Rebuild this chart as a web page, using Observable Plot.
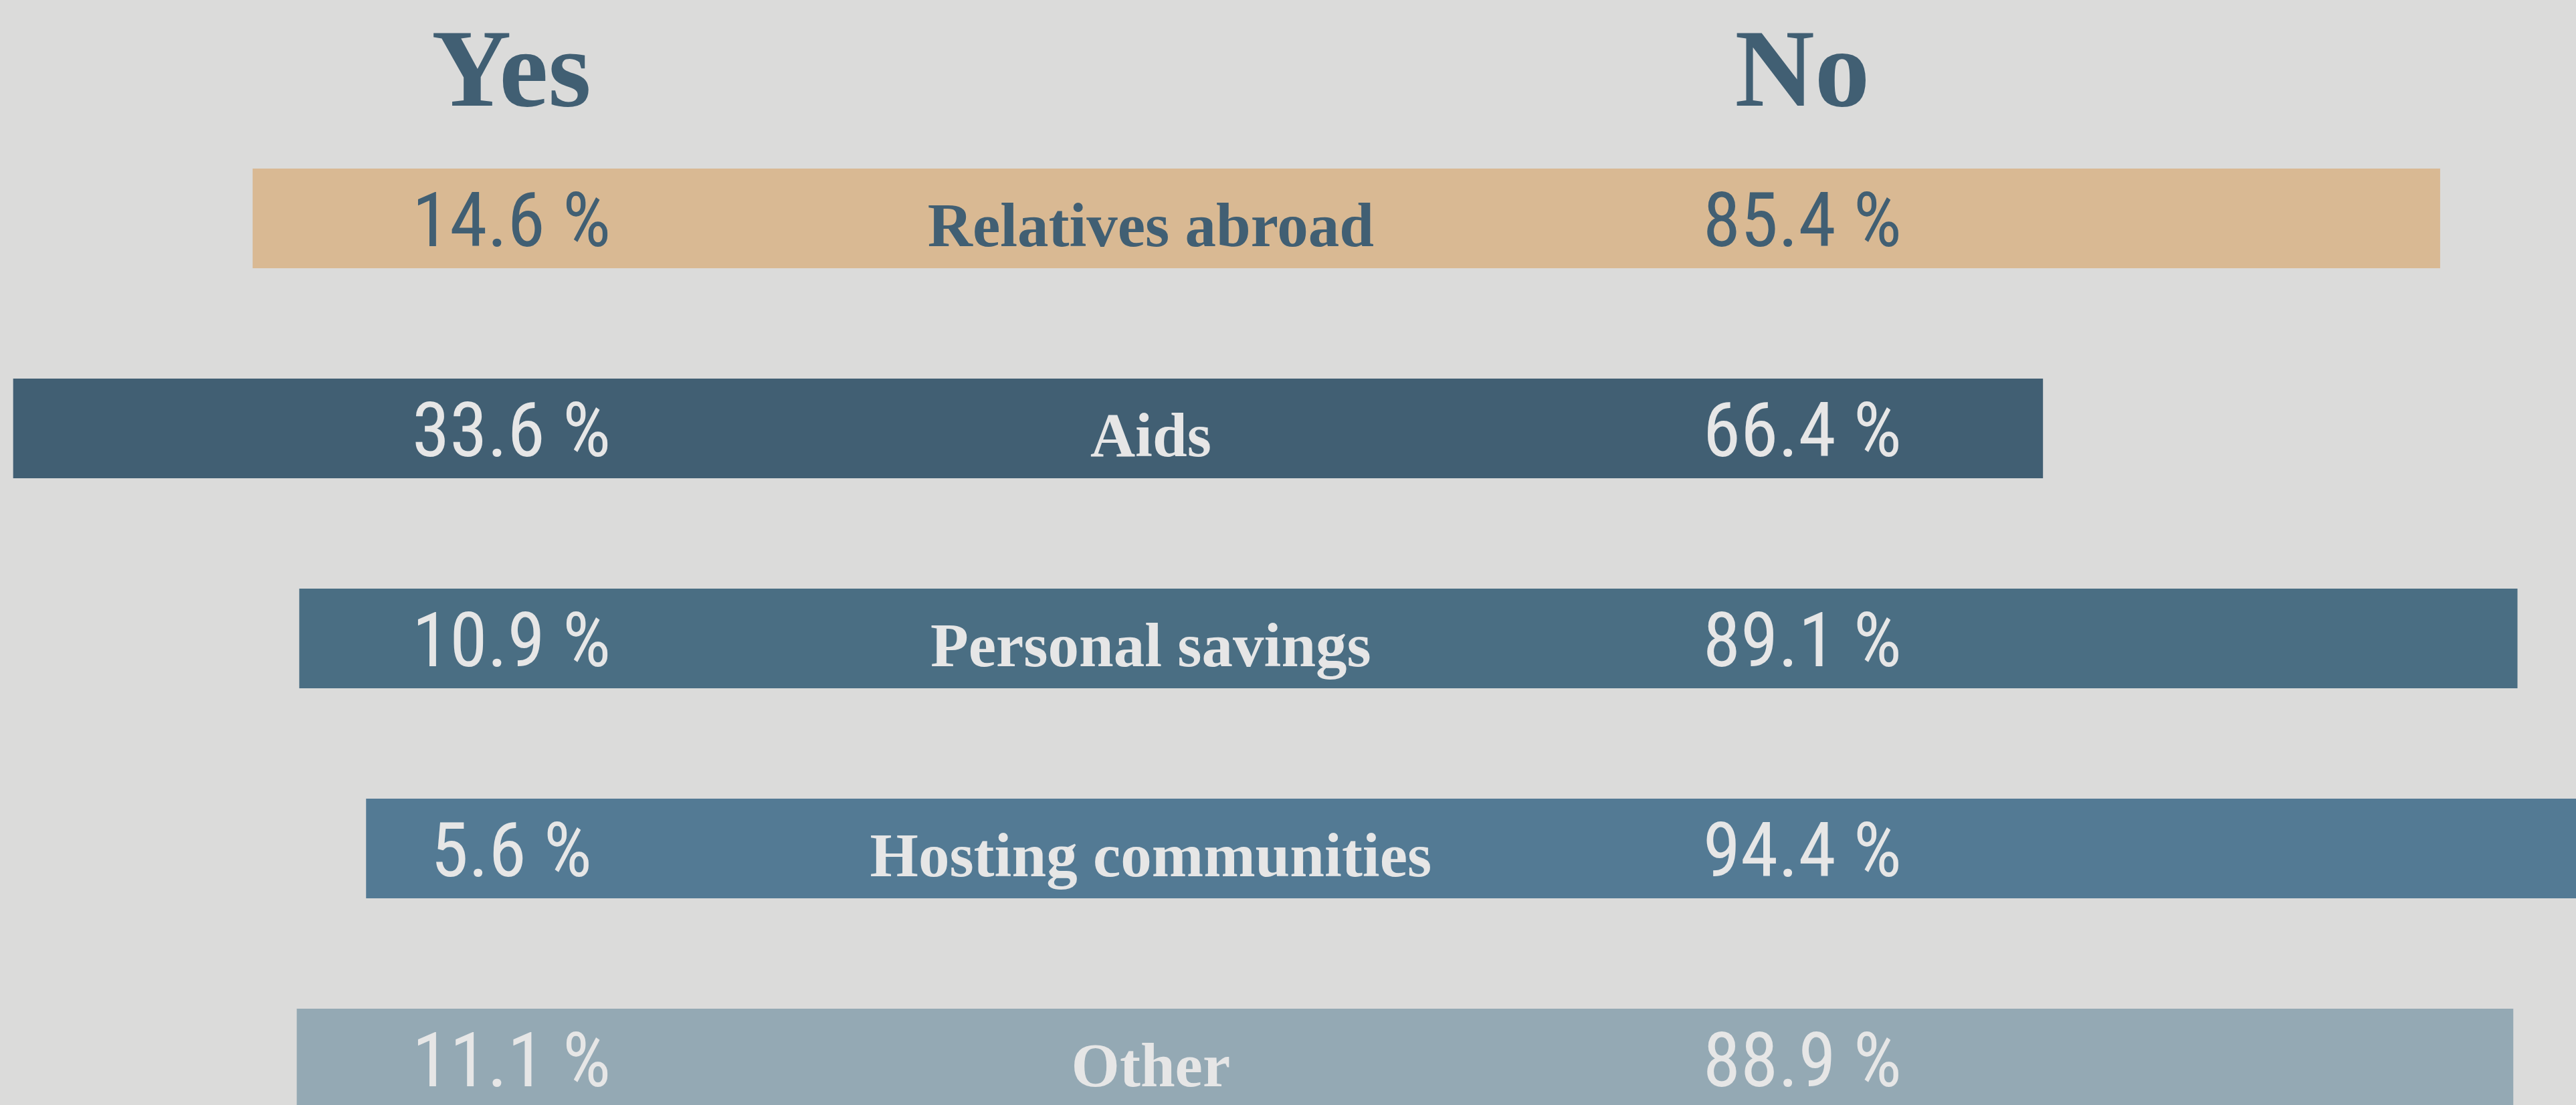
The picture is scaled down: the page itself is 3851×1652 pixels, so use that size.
<!DOCTYPE html>
<html>
<head>
<meta charset="utf-8">
<script src="https://cdn.jsdelivr.net/npm/d3@7"></script>
<script src="https://cdn.jsdelivr.net/npm/@observablehq/plot@0.6"></script>
<style>
  html, body { margin: 0; padding: 0; width: 3851px; height: 1652px; overflow: hidden; background: #DBDBDA; }
  #chart svg { display: block; }
</style>
</head>
<body>
<div id="chart"></div>
<script>
// ---- data ----
const categories = ["Relatives abroad", "Aids", "Personal savings", "Hosting communities", "Other"];
const yesShare = [14.6, 33.6, 10.9, 5.6, 11.1];
const noShare = [85.4, 66.4, 89.1, 94.4, 88.9];
const columnHeaders = ["Yes", "No"];

// ---- styles ----
const barPalette = ["#D9B993", "#415F73", "#4A6E83", "#537A94", "#94A9B4"];
const textPalette = ["#415F73", "#E6E6E6", "#E6E6E6", "#E6E6E6", "#E6E6E6"];
const DARK = "#415F73";

const rows = categories.map((category, i) => ({category, yes: yesShare[i], no: noShare[i], textColor: textPalette[i]}));

// ---- layout ----
const W = 3851, H = 1652;
const YES_GAP = 10.45;    // gap left of the divider reserved for the label column
const YES_RATIO = 0.603;  // the "Yes" share is drawn compressed relative to "No"
const COL = {yes: -6.89, label: 23.7, no: 54.87};
const NUM_FONT = "'Liberation Sans Narrow', 'Arial Narrow', 'Roboto Condensed', Roboto, sans-serif";
const LABEL_FONT = "'Liberation Serif', 'DejaVu Serif', serif";

const chart = Plot.plot({
  width: W,
  height: H,
  margin: 0,
  style: {background: "transparent", overflow: "visible"},
  x: {domain: [-31.34, 91.9], range: [0, W], axis: null},
  y: {domain: categories, range: [252, 1657], paddingInner: 0.5255, paddingOuter: 0, axis: null},
  color: {domain: categories, range: barPalette},
  marks: [
    Plot.barX(rows, {
      y: "category",
      x1: d => -(YES_GAP + YES_RATIO * d.yes),
      x2: "no",
      fill: "category"
    }),
    Plot.text(rows, {
      y: "category",
      x: () => COL.yes,
      text: d => `${d.yes.toFixed(1)} %`,
      fill: d => d.textColor,
      fontFamily: NUM_FONT,
      fontSize: 114,
      dy: 5
    }),
    Plot.text(rows, {
      y: "category",
      x: () => COL.label,
      text: "category",
      fill: d => d.textColor,
      fontFamily: LABEL_FONT,
      fontWeight: "bold",
      fontSize: 93,
      dy: 11
    }),
    Plot.text(rows, {
      y: "category",
      x: () => COL.no,
      text: d => `${d.no.toFixed(1)} %`,
      fill: d => d.textColor,
      fontFamily: NUM_FONT,
      fontSize: 114,
      dy: 5
    }),
    Plot.text(columnHeaders, {
      x: (d, i) => (i === 0 ? COL.yes : COL.no),
      text: d => d,
      frameAnchor: "top",
      lineAnchor: "bottom",
      dy: 157,
      fill: DARK,
      fontFamily: LABEL_FONT,
      fontWeight: "bold",
      fontSize: 165
    })
  ]
});

document.getElementById("chart").append(chart);
</script>
</body>
</html>
